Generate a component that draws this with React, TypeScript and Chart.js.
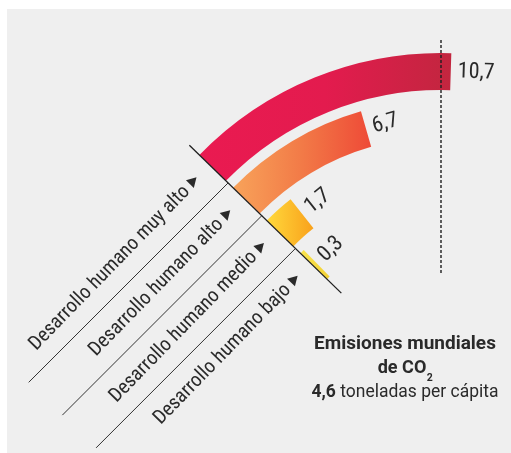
import React, { useEffect, useRef } from "react";
import { Chart, registerables } from "chart.js";

Chart.register(...registerables);

// ---------- data ----------
const categories = [
  "Desarrollo humano muy alto",
  "Desarrollo humano alto",
  "Desarrollo humano medio",
  "Desarrollo humano bajo",
];
const emissionsPerCapita = [10.7, 6.7, 1.7, 0.3];
const valueLabels = ["10,7", "6,7", "1,7", "0,3"];
const worldAverageLabel = "4,6";
const titleLines = ["Emisiones mundiales", "de CO"];
const unitText = " toneladas per cápita";
const fullTurnValue = 81; // tonnes per capita that would fill a whole 360° turn

// ---------- style ----------
const barGradients = [
  ["#ea1a51", "#e31b4e", "#c2263f"],
  ["#f8a35a", "#f27a47", "#ee4a37"],
  ["#ffd93c", "#f9a11b"],
  ["#f9e44f", "#f3d135"],
];
const PAGE_W = 511;
const PAGE_H = 453;
const CX = 441;
const CY = 390;
const R_OUT = 337;
const R_IN = 159;
const RING = 37;
const GAP = 10;
const ROTATION = -45.8;
const CANVAS_W = 900;
const CANVAS_H = 800;
const FF = "Roboto, 'Liberation Sans', sans-serif";
const FC = "'Roboto Condensed', Roboto, sans-serif";
const INK = "#2a2a2a";

const barDatasetIndexes: number[] = [];

function barFill(i: number) {
  return (c: any) => {
    if (c.dataIndex !== 0) return "rgba(0,0,0,0)";
    const chart = c.chart;
    const area = chart.chartArea;
    if (!area) return barGradients[i][0];
    const cx = (area.left + area.right) / 2;
    const ctrl: any = chart.getDatasetMeta(c.datasetIndex).controller;
    const ro = ctrl.outerRadius || R_OUT;
    const ri = ctrl.innerRadius || R_IN;
    const start = ((ROTATION - 90) * Math.PI) / 180;
    const sweep = (emissionsPerCapita[i] / fullTurnValue) * Math.PI * 2;
    let xmin = Infinity;
    let xmax = -Infinity;
    for (let k = 0; k <= 24; k++) {
      const ang = start + (sweep * k) / 24;
      for (const r of [ri, ro]) {
        const x = cx + r * Math.cos(ang);
        xmin = Math.min(xmin, x);
        xmax = Math.max(xmax, x);
      }
    }
    if (xmax - xmin < 1) xmax = xmin + 1;
    const g = chart.ctx.createLinearGradient(xmin, 0, xmax, 0);
    const stops = barGradients[i];
    stops.forEach((col, k) => g.addColorStop(k / (stops.length - 1), col));
    return g;
  };
}

function buildDatasets() {
  const ds: any[] = [];
  barDatasetIndexes.length = 0;
  emissionsPerCapita.forEach((v, i) => {
    if (i > 0) {
      ds.push({
        label: "gap" + i,
        data: [1],
        backgroundColor: ["rgba(0,0,0,0)"],
        weight: GAP,
        borderWidth: 0,
        hoverOffset: 0,
        offset: 0,
      });
    }
    barDatasetIndexes.push(ds.length);
    ds.push({
      label: categories[i],
      data: [v, fullTurnValue - v],
      backgroundColor: barFill(i),
      weight: RING,
      borderWidth: 0,
      hoverOffset: 0,
      offset: 0,
    });
  });
  return ds;
}

function text(
  ctx: CanvasRenderingContext2D,
  s: string,
  x: number,
  y: number,
  font: string,
  align: CanvasTextAlign,
  baseline: CanvasTextBaseline,
  rot = 0,
  sx = 1,
  color = INK
) {
  ctx.save();
  ctx.translate(x, y);
  if (rot) ctx.rotate(rot);
  ctx.scale(sx, 1);
  ctx.font = font;
  ctx.fillStyle = color;
  ctx.textAlign = align;
  ctx.textBaseline = baseline;
  ctx.fillText(s, 0, 0);
  ctx.restore();
}

const overlayPlugin = {
  id: "radialOverlay",
  afterDatasetsDraw(chart: any) {
    const ctx: CanvasRenderingContext2D = chart.ctx;
    const arcs = barDatasetIndexes.map((di) => chart.getDatasetMeta(di).data[0] as any);
    const cx = arcs[0].x;
    const cy = arcs[0].y;
    const a0 = arcs[0].startAngle;
    const ux = Math.cos(a0);
    const uy = Math.sin(a0);
    const tx = -uy;
    const ty = ux;
    const pt = (r: number, t: number) => [cx + r * ux + t * tx, cy + r * uy + t * ty];

    ctx.save();
    // dashed reference line at the top of the circle
    ctx.strokeStyle = "#1e1e1e";
    ctx.lineWidth = 1.4;
    ctx.setLineDash([3, 2]);
    ctx.beginPath();
    ctx.moveTo(cx, cy - (arcs[0].outerRadius + 13));
    ctx.lineTo(cx, cy - (arcs[3].innerRadius - 42));
    ctx.stroke();
    ctx.setLineDash([]);

    // start line
    ctx.lineWidth = 1.3;
    ctx.strokeStyle = "#1e1e1e";
    const [sx0, sy0] = pt(arcs[0].outerRadius + 14, 0);
    const [sx1, sy1] = pt(arcs[3].innerRadius - 20, 0);
    ctx.beginPath();
    ctx.moveTo(sx0, sy0);
    ctx.lineTo(sx1, sy1);
    ctx.stroke();

    // leader lines
    ctx.lineWidth = 1;
    ctx.strokeStyle = "#333";
    for (let i = 0; i < 3; i++) {
      const [lx, ly] = pt(arcs[i].innerRadius - 3, 0);
      const L = 282 / Math.SQRT2;
      ctx.beginPath();
      ctx.moveTo(lx, ly);
      ctx.lineTo(lx - L, ly + L);
      ctx.stroke();
    }

    // category labels with triangles
    for (let i = 0; i < arcs.length; i++) {
      const rb = (arcs[i].innerRadius + arcs[i].outerRadius) / 2 - 1;
      const [bx, by] = pt(rb, 0);
      ctx.save();
      ctx.translate(bx, by);
      ctx.rotate(a0 + Math.PI / 2);
      ctx.fillStyle = INK;
      ctx.beginPath();
      ctx.moveTo(-27.5, -11.5);
      ctx.lineTo(-27.5, -0.5);
      ctx.lineTo(-18, -6);
      ctx.closePath();
      ctx.fill();
      ctx.restore();
      const [px, py] = pt(rb, -33);
      text(ctx, categories[i], px, py, `400 20px ${FC}`, "right", "alphabetic", a0 + Math.PI / 2, 1);
    }

    // value labels at the end of each bar
    for (let i = 0; i < arcs.length; i++) {
      const ae = arcs[i].endAngle;
      const rm = (arcs[i].innerRadius + arcs[i].outerRadius) / 2;
      const ex = cx + rm * Math.cos(ae) + 7 * -Math.sin(ae);
      const ey = cy + rm * Math.sin(ae) + 7 * Math.cos(ae);
      text(ctx, valueLabels[i], ex, ey, `400 22px ${FC}`, "left", "middle", ae + Math.PI / 2, 1);
    }
    ctx.restore();
  },
  afterDraw(chart: any) {
    const ctx: CanvasRenderingContext2D = chart.ctx;
    const midX = 405;
    text(ctx, titleLines[0], midX, 349, `700 19px ${FF}`, "center", "alphabetic", 0, 1.0);
    // "de CO2"
    ctx.save();
    ctx.font = `700 19px ${FF}`;
    const w1 = ctx.measureText(titleLines[1]).width * 0.95;
    ctx.font = `700 11px ${FF}`;
    const w2 = ctx.measureText("2").width * 0.95;
    ctx.restore();
    const l2 = midX - (w1 + w2) / 2;
    text(ctx, titleLines[1], l2, 373, `700 19px ${FF}`, "left", "alphabetic", 0, 0.95);
    text(ctx, "2", l2 + w1 + 0.5, 381, `700 11px ${FF}`, "left", "alphabetic", 0, 0.95);
    // "4,6 toneladas per cápita"
    const s3 = 0.92;
    ctx.save();
    ctx.font = `700 19px ${FF}`;
    const wa = ctx.measureText(worldAverageLabel).width * s3;
    ctx.font = `400 19px ${FF}`;
    const wb = ctx.measureText(unitText).width * s3;
    ctx.restore();
    const l3 = midX - (wa + wb) / 2;
    text(ctx, worldAverageLabel, l3, 397, `700 19px ${FF}`, "left", "alphabetic", 0, s3);
    text(ctx, unitText, l3 + wa, 397, `400 19px ${FF}`, "left", "alphabetic", 0, s3);
  },
};

export default function App() {
  const ref = useRef<HTMLCanvasElement | null>(null);
  useEffect(() => {
    if (!ref.current) return;
    const chart = new Chart(ref.current, {
      type: "doughnut",
      data: { labels: ["valor", "resto"], datasets: buildDatasets() },
      options: {
        responsive: false,
        animation: false,
        devicePixelRatio: 1,
        events: [],
        rotation: ROTATION,
        circumference: 360,
        cutout: R_IN,
        radius: R_OUT,
        layout: {
          padding: {
            left: CX - R_OUT,
            top: CY - R_OUT,
            right: CANVAS_W - (CX + R_OUT),
            bottom: CANVAS_H - (CY + R_OUT),
          },
        },
        plugins: { legend: { display: false }, tooltip: { enabled: false } },
      } as any,
      plugins: [overlayPlugin],
    });
    return () => chart.destroy();
  }, []);

  return (
    <div
      style={{
        position: "fixed",
        left: 0,
        top: 0,
        width: PAGE_W,
        height: PAGE_H,
        overflow: "hidden",
        background: "#ffffff",
      }}
    >
      <div
        style={{
          position: "absolute",
          left: 7,
          top: 9,
          width: PAGE_W - 7,
          height: PAGE_H - 9,
          background: "#efefef",
        }}
      />
      <canvas
        ref={ref}
        width={CANVAS_W}
        height={CANVAS_H}
        style={{ position: "absolute", left: 0, top: 0, width: CANVAS_W, height: CANVAS_H }}
      />
    </div>
  );
}
